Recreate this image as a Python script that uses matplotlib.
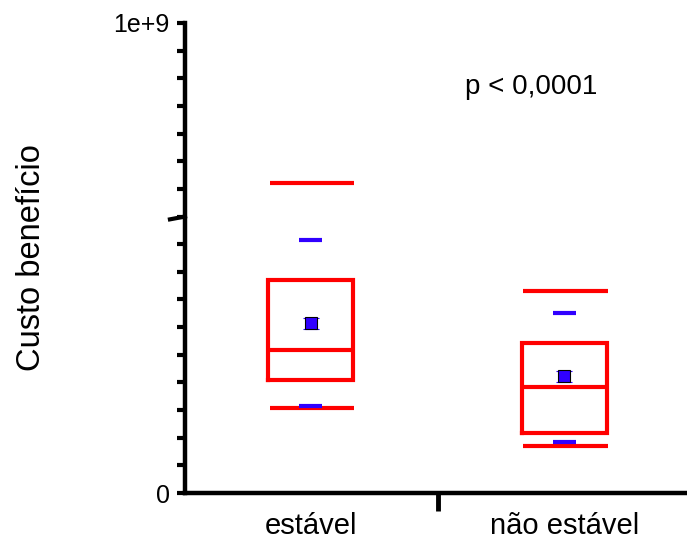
import numpy as np
import matplotlib.pyplot as plt
from matplotlib.ticker import FixedLocator, NullFormatter

plt.rcParams['font.family'] = ['Liberation Sans', 'DejaVu Sans']

# -----------------------------
# Box summaries per group
# -----------------------------
groups = ["estável", "não estável"]
whisk_hi = [6.59e8, 4.30e8]
pct_hi = [5.38e8, 3.84e8]
q3 = [4.53e8, 3.20e8]
median = [3.04e8, 2.25e8]
q1 = [2.40e8, 1.27e8]
pct_lo = [1.85e8, 1.09e8]
whisk_lo = [1.80e8, 1.01e8]
means = [3.61e8, 2.48e8]
sem = [1.2e7, 1.2e7]

red = "#ff0000"
blue = "#3000ff"

fig = plt.figure(figsize=(6.87, 5.41), dpi=100)
ax = fig.add_axes([0.2693, 0.0887, 0.7307, 0.8688])

pos = np.arange(1, len(groups) + 1)
box_w = 0.335
dash_w = 0.09
lw = 3.0

for i, x in enumerate(pos):
    # box outline + median
    ax.plot([x - box_w / 2, x + box_w / 2, x + box_w / 2, x - box_w / 2, x - box_w / 2],
            [q1[i], q1[i], q3[i], q3[i], q1[i]], color=red, lw=lw, solid_joinstyle="miter")
    ax.hlines(median[i], x - box_w / 2, x + box_w / 2, color=red, lw=lw)
    # whisker ends
    ax.hlines([whisk_hi[i], whisk_lo[i]], x - box_w / 2 + 0.005, x + box_w / 2 + 0.005,
              color=red, lw=lw)
    # percentile dashes
    ax.hlines([pct_hi[i], pct_lo[i]], x - dash_w / 2, x + dash_w / 2, color=blue, lw=lw)
    # mean +/- SEM
    ax.errorbar(x, means[i], yerr=sem[i], fmt="s", color=blue, ecolor=blue, ms=9,
                mec="black", mew=0.8, capsize=6, capthick=3, elinewidth=4, zorder=5)

ax.text(1.87, 0.864e9, "p < 0,0001", fontsize=20, ha="center", va="center")

ax.set_xlim(0.504, 2.484)
ax.set_ylim(0, 1e9)

for side in ("top", "right"):
    ax.spines[side].set_visible(False)
for side in ("left", "bottom"):
    ax.spines[side].set_linewidth(3.2)

# y axis: labelled ends, minor ticks every 1/17, one long slanted tick
ax.set_yticks([0, 1e9])
ax.set_yticklabels(["0", "1e+9"], fontsize=18)
ax.yaxis.set_minor_locator(FixedLocator(np.arange(1, 17) * 1e9 / 17))
ax.yaxis.set_minor_formatter(NullFormatter())
ax.tick_params(axis="y", which="major", length=6, width=3, pad=5)
ax.tick_params(axis="y", which="minor", length=6, width=3)
ax.plot([-0.03, 0], [10 / 17 * 1e9 - 0.006e9, 10 / 17 * 1e9], color="black", lw=3,
        transform=ax.get_yaxis_transform(), clip_on=False)

# x axis: one tick between groups, group names without ticks
ax.set_xticks([1.5])
ax.set_xticklabels([""])
ax.set_xticks(pos, minor=True)
ax.set_xticklabels(groups, minor=True, fontsize=21)
ax.tick_params(axis="x", which="major", length=13, width=3.5)
ax.tick_params(axis="x", which="minor", length=0, pad=14)

ax.set_ylabel("Custo benefício", fontsize=23.5, labelpad=48)

fig.savefig("out.png", dpi=100)
